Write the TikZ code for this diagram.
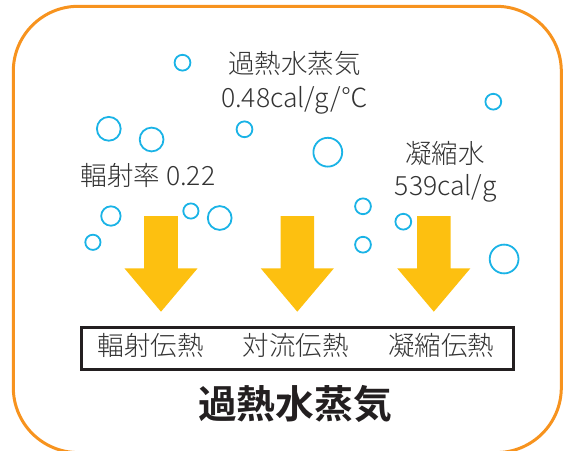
\documentclass[tikz,border=0pt]{standalone}
\usepackage{fontspec}
\newfontfamily\jp{Noto Sans CJK JP}[UprightFont={* Light},BoldFont={* Bold}]
\definecolor{frameorange}{HTML}{F7931E}
\definecolor{bubble}{HTML}{1AB3E6}
\definecolor{arrowyellow}{HTML}{FDC010}
\definecolor{ink}{HTML}{333333}
\definecolor{boxline}{HTML}{231F20}
\tikzset{
  bub/.style={draw=bubble,line width=1.8pt},
  label/.style={font=\jp\fontsize{26.5}{28}\selectfont,text=ink,inner sep=0pt,anchor=base},
  biglabel/.style={font=\jp\bfseries\fontsize{38.8}{40}\selectfont,text=boxline,inner sep=0pt,anchor=base},
  arr/.style={fill=arrowyellow}
}
\newcommand\yarrow[1]{\fill[arr] ({#1-16.8},216) -- ({#1+16.8},216) -- ({#1+16.8},268.3) -- ({#1+36.6},268.3) -- (#1,311.7) -- ({#1-36.6},268.3) -- ({#1-16.8},268.3) -- cycle;}
\begin{document}
\begin{tikzpicture}[x=1pt,y=-1pt]
\useasboundingbox (0,0) rectangle (564,450);
\draw[frameorange,line width=3pt,rounded corners=65pt] (13.3,6.3) rectangle (561.3,452.6);
% bubbles
\draw[bub] (182.5,62.7) circle (7.9);
\draw[bub] (493.3,101.7) circle (7.9);
\draw[bub] (108.8,128.8) circle (11.9);
\draw[bub] (151.6,139.5) circle (11.9);
\draw[bub] (244.5,129.3) circle (7.9);
\draw[bub] (327.8,152.2) circle (14.4);
\draw[bub] (110.9,216) circle (9.7);
\draw[bub] (190.9,211) circle (7.6);
\draw[bub] (219.7,218) circle (11.9);
\draw[bub] (92.9,242.3) circle (7.6);
\draw[bub] (363,206.3) circle (7.9);
\draw[bub] (363,244.7) circle (7.9);
\draw[bub] (403.3,221.7) circle (7.9);
\draw[bub] (504.1,259) circle (14.4);
% arrows
\yarrow{161}
\yarrow{297.3}
\yarrow{433.8}
% texts
\node[label] (steam) at (294.7,73.5) {過熱水蒸気};
\node[label] (heat) at (294.5,107.3) {0.48cal/g/℃};
\node[label] (emis) at (148,185.5) {輻射率 0.22};
\node[label] (cond) at (445.2,163.4) {凝縮水};
\node[label] (latent) at (445.7,195) {539cal/g};
\node[draw=boxline,line width=3pt,minimum width=432pt,minimum height=42pt,inner sep=0pt] (box) at (297.5,348.2) {};
\node[label] (rad) at (150.8,355.9) {輻射伝熱};
\node[label] (conv) at (295.8,355.9) {対流伝熱};
\node[label] (condh) at (441.2,355.9) {凝縮伝熱};
\node[biglabel] (title) at (295,418.5) {過熱水蒸気};
\end{tikzpicture}
\end{document}
